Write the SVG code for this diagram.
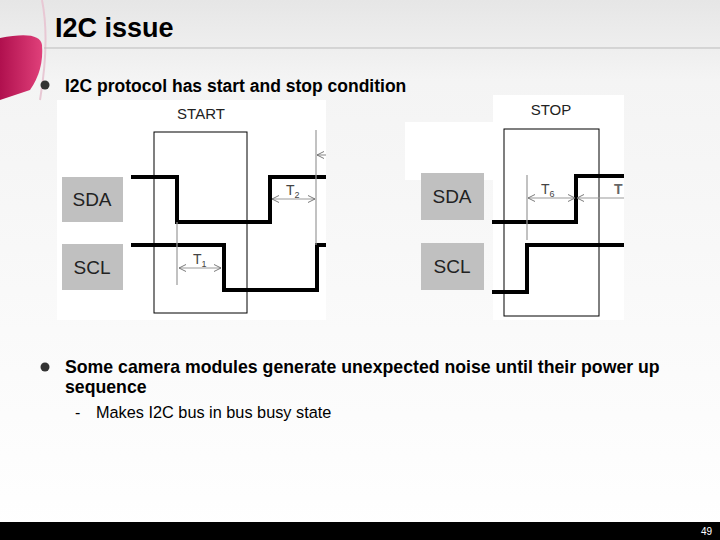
<svg xmlns="http://www.w3.org/2000/svg" width="720" height="540" viewBox="0 0 720 540">
<defs>
<linearGradient id="bg" x1="0" y1="0" x2="0" y2="1"><stop offset="0" stop-color="#e6e6e6"/><stop offset="0.15" stop-color="#f4f4f4"/><stop offset="1" stop-color="#ffffff"/></linearGradient>
<linearGradient id="wine" x1="0" y1="0" x2="1" y2="0"><stop offset="0" stop-color="#b0104e"/><stop offset="1" stop-color="#e0407a"/></linearGradient>
<marker id="ah" viewBox="0 0 10 10" refX="10" refY="5" markerWidth="6" markerHeight="6" orient="auto-start-reverse"><path d="M0,0 L10,5 L0,10" fill="none" stroke="#666" stroke-width="1.2"/></marker>
</defs>
<style>
.t{font-family:"Liberation Sans",Arial,sans-serif}
.lbl{fill:#c0c0c0}
.lt{font-family:"Liberation Sans",Arial,sans-serif;font-size:19px;fill:#222}
.sig{fill:none;stroke:#000;stroke-width:4}
.g{stroke:#999;stroke-width:1.2;fill:none}
.box{fill:none;stroke:#000;stroke-width:1}
</style>
<rect width="720" height="540" fill="url(#bg)"/>
<path d="M0,38 Q40,30 42,45 Q44,70 30,90 L0,100 Z" fill="url(#wine)"/>
<path d="M42,0 Q50,40 40,100" fill="none" stroke="#e8c8d4" stroke-width="2"/>
<line x1="44" y1="48" x2="720" y2="48" stroke="#bbb" stroke-width="1"/>
<text class="t" x="55" y="37" font-size="27" font-weight="bold">I2C issue</text>
<circle cx="45" cy="85" r="4.5" fill="#333"/>
<text class="t" x="65" y="92" font-size="17.5" font-weight="bold">I2C protocol has start and stop condition</text>

<g id="start">
<rect x="57" y="100" width="269" height="220" fill="#fff"/>
<text class="t" x="201" y="119" font-size="15" text-anchor="middle" fill="#222">START</text>
<rect class="box" x="154" y="132" width="93" height="181"/>
<rect class="lbl" x="62" y="177" width="61" height="45"/><text class="lt" x="92" y="206" text-anchor="middle">SDA</text>
<rect class="lbl" x="62" y="244" width="61" height="46"/><text class="lt" x="92" y="274" text-anchor="middle">SCL</text>
<path class="sig" d="M131,177 H177 V222 H270 V177 H326"/>
<path class="sig" d="M131,245 H224 V290 H317 V245 H326"/>
<line class="g" x1="177" y1="222" x2="177" y2="285"/>
<line class="g" x1="316" y1="130" x2="316" y2="245"/>
<line class="g" x1="179" y1="268" x2="221" y2="268" marker-start="url(#ah)" marker-end="url(#ah)"/>
<line class="g" x1="272" y1="199" x2="315" y2="199" marker-start="url(#ah)" marker-end="url(#ah)"/>
<line class="g" x1="317" y1="155" x2="326" y2="155" marker-start="url(#ah)"/>
<text class="t" x="193" y="264" font-size="14" fill="#444">T<tspan font-size="9" dy="3">1</tspan></text>
<text class="t" x="286" y="195" font-size="14" fill="#444">T<tspan font-size="9" dy="3">2</tspan></text>
</g>

<g id="stop">
<rect x="405" y="122" width="88" height="58" fill="#fff"/>
<rect x="493" y="95" width="131" height="225" fill="#fff"/>
<text class="t" x="551" y="115" font-size="15" text-anchor="middle" fill="#222">STOP</text>
<rect class="box" x="504" y="129" width="95" height="187"/>
<rect class="lbl" x="421" y="173" width="63" height="47"/><text class="lt" x="452" y="203" text-anchor="middle">SDA</text>
<rect class="lbl" x="421" y="243" width="63" height="47"/><text class="lt" x="452" y="273" text-anchor="middle">SCL</text>
<path class="sig" d="M492,222 H576 V176 H624"/>
<path class="sig" d="M492,292 H527 V245 H624"/>
<line class="g" x1="527" y1="175" x2="527" y2="240"/>
<line class="g" x1="528" y1="198" x2="575" y2="198" marker-start="url(#ah)" marker-end="url(#ah)"/>
<line class="g" x1="577" y1="198" x2="624" y2="198" marker-start="url(#ah)"/>
<text class="t" x="541" y="194" font-size="14" fill="#444">T<tspan font-size="9" dy="3">6</tspan></text>
<text class="t" x="614" y="194" font-size="14" font-weight="bold" fill="#666">T</text>
</g>

<circle cx="45" cy="367" r="4.5" fill="#333"/>
<text class="t" x="65" y="373" font-size="17.7" font-weight="bold">Some camera modules generate unexpected noise until their power up</text>
<text class="t" x="65" y="393" font-size="17.7" font-weight="bold">sequence</text>
<text class="t" x="75" y="418" font-size="16">-</text>
<text class="t" x="96" y="418" font-size="16.3">Makes I2C bus in bus busy state</text>

<rect x="0" y="522" width="720" height="18" fill="#000"/>
<text class="t" x="712" y="535" font-size="10" fill="#fff" text-anchor="end">49</text>
</svg>
